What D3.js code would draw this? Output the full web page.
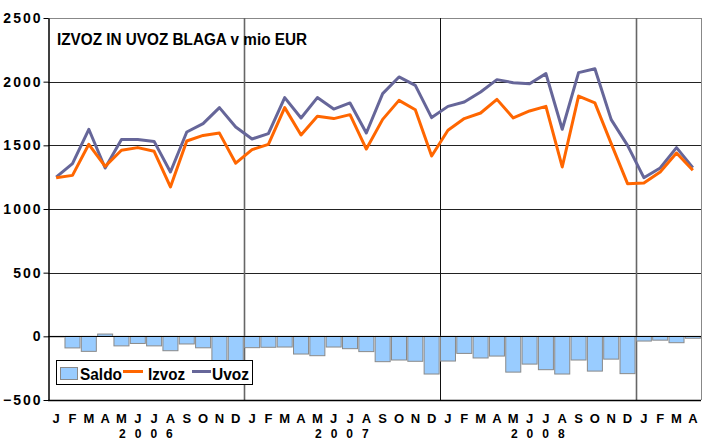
<!DOCTYPE html>
<html><head><meta charset="utf-8">
<script src="https://cdn.jsdelivr.net/npm/d3@7"></script>
<style>
html,body{margin:0;padding:0;background:#fff;}
svg{display:block;font-family:"Liberation Sans",Arial,sans-serif;}
</style></head>
<body><svg id="c" width="702" height="439"></svg>
<script>
const months = ["J","F","M","A","M","J","J","A","S","O","N","D",
  "J","F","M","A","M","J","J","A","S","O","N","D",
  "J","F","M","A","M","J","J","A","S","O","N","D",
  "J","F","M","A"];
const yearLabels = ["2006","2007","2008"];
const izvoz = [1245,1264,1508,1335,1461,1482,1453,1173,1534,1578,1596,1360,
  1466,1508,1796,1581,1728,1710,1741,1471,1704,1853,1780,1416,
  1618,1710,1754,1861,1715,1770,1806,1330,1887,1833,1513,1199,
  1204,1291,1440,1304];
const uvoz = [1250,1356,1626,1322,1545,1545,1531,1291,1605,1670,1796,1644,
  1550,1592,1875,1715,1875,1785,1833,1597,1906,2037,1971,1718,
  1806,1840,1919,2016,1992,1984,2063,1626,2071,2102,1702,1500,
  1246,1322,1482,1325];
const saldo = [-5,-91,-118,18,-75,-56,-75,-113,-60,-90,-200,-286,
  -89,-86,-84,-139,-152,-84,-97,-120,-199,-186,-196,-296,
  -194,-134,-170,-155,-281,-218,-262,-296,-186,-273,-179,-293,
  -37,-30,-50,-15];
const yTicks = [-500,0,500,1000,1500,2000,2500];
const title = "IZVOZ IN UVOZ BLAGA v mio EUR";
const legendNames = ["Saldo","Izvoz","Uvoz"];

const svg = d3.select("#c");
const L = 48, R = 701, T = 18, B = 400;
const idx = d3.range(months.length);
const x = d3.scaleBand().domain(idx).range([L, R]).paddingInner(0.08).paddingOuter(0.04);
const xs = d3.scaleBand().domain(idx).range([L, R]);
const y = d3.scaleLinear().domain([-500, 2500]).range([B, T]);

// horizontal gridlines
svg.append("g").selectAll("line").data(yTicks).join("line")
  .attr("x1", L).attr("x2", R)
  .attr("y1", d => Math.round(y(d)) + 0.5).attr("y2", d => Math.round(y(d)) + 0.5)
  .attr("stroke", d => d === 2500 ? "#888" : "#222").attr("stroke-width", 1);

// year separators
const seps = [12, 24, 36];
svg.append("g").selectAll("line").data(seps).join("line")
  .attr("x1", d => Math.round(xs(d)) + 0.5).attr("x2", d => Math.round(xs(d)) + 0.5)
  .attr("y1", T).attr("y2", B)
  .attr("stroke", (d, i) => i === 1 ? "#111" : "#666").attr("stroke-width", (d, i) => i === 1 ? 1 : 1.6);
// right border
svg.append("line").attr("x1", R + 0.5).attr("x2", R + 0.5).attr("y1", T).attr("y2", B).attr("stroke", "#888");

// bars
svg.append("g").selectAll("rect").data(saldo).join("rect")
  .attr("x", (d, i) => x(i))
  .attr("width", x.bandwidth())
  .attr("y", d => y(Math.max(0, d)))
  .attr("height", d => Math.abs(y(d) - y(0)))
  .attr("fill", "#99CCFF").attr("stroke", "#8a8a8a").attr("stroke-width", 1);

// zero line over bars
svg.append("line").attr("x1", L).attr("x2", R)
  .attr("y1", Math.round(y(0)) + 0.5).attr("y2", Math.round(y(0)) + 0.5)
  .attr("stroke", "#000").attr("stroke-width", 1.2);

// lines
const line = arr => d3.line().x((d, i) => xs(i) + xs.bandwidth() / 2).y(d => y(d))(arr);
svg.append("path").attr("d", line(uvoz)).attr("fill", "none").attr("stroke", "#666699").attr("stroke-width", 3).attr("stroke-linejoin", "round");
svg.append("path").attr("d", line(izvoz)).attr("fill", "none").attr("stroke", "#FF6600").attr("stroke-width", 3).attr("stroke-linejoin", "round");

// y axis
const yAxis = svg.append("g").attr("transform", `translate(${L + 0.5},0)`)
  .call(d3.axisLeft(y).tickValues(yTicks).tickSize(5).tickSizeOuter(0).tickPadding(3).tickFormat(d3.format("d")));
yAxis.select(".domain").attr("stroke", "#000").attr("stroke-width", 1.5);
yAxis.selectAll(".tick line").attr("stroke", "#000");
yAxis.selectAll("text").attr("font-size", 14).attr("font-weight", "bold").attr("fill", "#000")
  .attr("font-family", "Liberation Sans, Arial, sans-serif").attr("letter-spacing", "2px").attr("dx", "2px");

// bottom border
svg.append("line").attr("x1", L).attr("x2", R).attr("y1", B + 0.5).attr("y2", B + 0.5).attr("stroke", "#000").attr("stroke-width", 1.5);

// x axis labels
const xAxis = svg.append("g").attr("transform", `translate(0,${B})`)
  .call(d3.axisBottom(xs).tickSize(0).tickPadding(14).tickFormat(i => months[i]));
xAxis.select(".domain").remove();
xAxis.selectAll("text").attr("font-size", 13).attr("font-weight", "bold").attr("fill", "#000")
  .attr("font-family", "Liberation Sans, Arial, sans-serif");

// year labels
svg.append("g").selectAll("text").data(yearLabels).join("text")
  .attr("x", (d, i) => xs(i * 12 + 6) + 4.5)
  .attr("y", 437.5)
  .attr("text-anchor", "middle").attr("font-size", 12).attr("font-weight", "bold")
  .attr("letter-spacing", "9px").text(d => d);

// title
svg.append("text").attr("x", 57).attr("y", 45).attr("font-size", 16).attr("font-weight", "bold")
  .attr("textLength", 250).attr("lengthAdjust", "spacingAndGlyphs").text(title);

// legend
const lg = svg.append("g");
lg.append("rect").attr("x", 56.5).attr("y", 360.5).attr("width", 196).attr("height", 24)
  .attr("fill", "#fff").attr("stroke", "#000").attr("stroke-width", 1);
lg.append("rect").attr("x", 60.5).attr("y", 367.5).attr("width", 17).attr("height", 12)
  .attr("fill", "#99CCFF").attr("stroke", "#8a8a8a");
lg.append("text").attr("x", 80).attr("y", 380).attr("font-size", 16).attr("font-weight", "bold").attr("textLength", 42).attr("lengthAdjust", "spacingAndGlyphs").text(legendNames[0]);
lg.append("line").attr("x1", 123).attr("x2", 143).attr("y1", 371.5).attr("y2", 371.5).attr("stroke", "#FF6600").attr("stroke-width", 3);
lg.append("text").attr("x", 148).attr("y", 380).attr("font-size", 16).attr("font-weight", "bold").attr("textLength", 37).attr("lengthAdjust", "spacingAndGlyphs").text(legendNames[1]);
lg.append("line").attr("x1", 192).attr("x2", 211).attr("y1", 371.5).attr("y2", 371.5).attr("stroke", "#666699").attr("stroke-width", 3);
lg.append("text").attr("x", 212).attr("y", 380).attr("font-size", 16).attr("font-weight", "bold").attr("textLength", 37).attr("lengthAdjust", "spacingAndGlyphs").text(legendNames[2]);
</script></body></html>
